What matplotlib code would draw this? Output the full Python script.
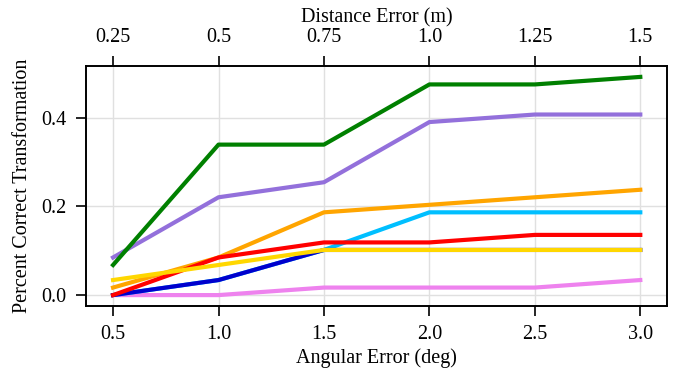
import matplotlib.pyplot as plt
import numpy as np

plt.rcParams['font.family'] = ['Liberation Serif', 'DejaVu Serif']

angular = [0.5, 1.0, 1.5, 2.0, 2.5, 3.0]
distance_labels = ["0.25", "0.5", "0.75", "1.0", "1.25", "1.5"]

n = 59.0
pink = np.array([0, 0, 1, 1, 1, 2]) / n
cyan = np.array([0, 2, 6, 11, 11, 11]) / n
blue = np.array([0, 2, 6, 6, 6, 6]) / n
orange = np.array([1, 5, 11, 12, 13, 14]) / n
red = np.array([0, 5, 7, 7, 8, 8]) / n
yellow = np.array([2, 4, 6, 6, 6, 6]) / n
purple = np.array([5, 13, 15, 23, 24, 24]) / n
green = np.array([4, 20, 20, 28, 28, 29]) / n

series = [
    (pink, 'violet'),
    (cyan, 'deepskyblue'),
    (blue, 'mediumblue'),
    (orange, 'orange'),
    (red, 'red'),
    (yellow, 'gold'),
    (purple, 'mediumpurple'),
    (green, 'green'),
]

fig, ax = plt.subplots(figsize=(6.83, 3.75), dpi=100)
fig.subplots_adjust(left=0.126, right=0.977, top=0.824, bottom=0.184)

for values, color in series:
    ax.plot(angular, values, color=color, linewidth=3)

ax.set_xlim(0.372, 3.128)
ax.set_xticks(angular)
ax.set_yticks([0.0, 0.2, 0.4])
ax.grid(True, color='#e0e0e0', linewidth=1)
ax.set_axisbelow(True)
ax.tick_params(labelsize=14.5, length=7, width=1.2, pad=7)
ax.set_xlabel('Angular Error (deg)', fontsize=14.5, labelpad=3)
ax.set_ylabel('Percent Correct Transformation', fontsize=14.5, labelpad=7)

top = ax.twiny()
top.set_xlim(ax.get_xlim())
top.set_xticks(angular)
top.set_xticklabels(distance_labels)
top.tick_params(labelsize=14.5, length=7, width=1.2, pad=7)
top.set_xlabel('Distance Error (m)', fontsize=14.5, labelpad=4)

for a in (ax, top):
    for s in a.spines.values():
        s.set_linewidth(1.2)

fig.savefig('out.png', dpi=100)
